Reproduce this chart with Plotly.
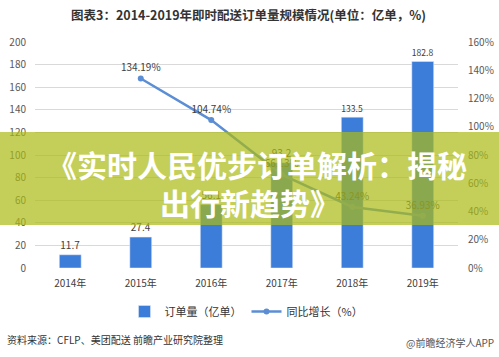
import plotly.graph_objects as go

years = ["2014年", "2015年", "2016年", "2017年", "2018年", "2019年"]
orders = [11.7, 27.4, 56.1, 93.2, 133.5, 182.8]
growth_years = ["2015年", "2016年", "2017年", "2018年", "2019年"]
growth = [1.3419, 1.0474, 0.6613, 0.4324, 0.3693]
growth_labels = ["134.19%", "104.74%", "66.13%", "43.24%", "36.93%"]

FONT = "Noto Sans CJK SC"
W, H = 499, 357
L, R, T, B = 35, 41, 42, 89
pw, ph = W - L - R, H - T - B

def px(x):
    return (x - L) / pw

def py(y):
    return (H - B - y) / ph

fig = go.Figure()
fig.add_trace(go.Bar(
    x=years, y=orders, name="订单量（亿单）",
    marker_color="#3C7DD9", width=0.31,
    text=[str(v) for v in orders], textposition="outside",
    textfont=dict(size=10, color="#404040", family=FONT),
    cliponaxis=False,
))
fig.add_trace(go.Scatter(
    x=growth_years, y=growth, name="同比增长（%）", yaxis="y2",
    mode="lines+markers+text",
    line=dict(color="#5B8ED4", width=2.5),
    marker=dict(size=6, color="#5B8ED4"),
    text=growth_labels, textposition="top center",
    textfont=dict(size=10, color="#404040", family=FONT),
    cliponaxis=False,
))

fig.update_layout(
    width=W, height=H,
    margin=dict(l=L, r=R, t=T, b=B, autoexpand=False),
    paper_bgcolor="white", plot_bgcolor="white",
    font=dict(family=FONT, color="#595959", size=10),
    showlegend=True,
    legend=dict(orientation="h", x=0.5, xanchor="center", y=py(297), yanchor="top",
                font=dict(size=11, color="#333333"), itemwidth=30),
    xaxis=dict(showgrid=False, tickfont=dict(size=10, color="#404040"), ticks="",
               showline=False, automargin=False, ticklabelstandoff=8),
    yaxis=dict(range=[0, 200], dtick=20, showgrid=True, gridcolor="#D9D9D9",
               gridwidth=1, zeroline=False, automargin=False, ticklabelstandoff=8,
               tickfont=dict(size=10, color="#595959")),
    yaxis2=dict(range=[0, 1.6], dtick=0.2, tickformat=".0%", overlaying="y",
                side="right", showgrid=False, zeroline=False, automargin=False,
                ticklabelstandoff=9, tickfont=dict(size=10, color="#595959")),
    bargap=0.5,
)

def note(text, x, y, size, color, xanchor="center"):
    fig.add_annotation(text=text, xref="paper", yref="paper", x=px(x), y=py(y),
                       xanchor=xanchor, yanchor="middle", showarrow=False,
                       font=dict(size=size, color=color, family=FONT))

# title
note("<b>图表3：2014-2019年即时配送订单量规模情况(单位：亿单，%)</b>", 249, 15, 12.5, "#333333")
# footer
note("资料来源：CFLP、美团配送 前瞻产业研究院整理", 5, 339, 10, "#333333", "left")
note("@前瞻经济学人APP", 496, 342, 10, "#555555", "right")

# overlay band
fig.add_shape(type="rect", xref="paper", yref="paper",
              x0=px(0), x1=px(W), y0=py(225), y1=py(132),
              fillcolor="rgba(171,186,19,0.7)", line=dict(width=0), layer="above")
note("<b>《实时人民优步订单解析：揭秘</b>", 257, 164, 30, "white")
note("<b>出行新趋势》</b>", 250, 202, 30, "white")

fig.write_html("out.html", config={"displayModeBar": False},
               post_script="document.body.style.margin='0';")
